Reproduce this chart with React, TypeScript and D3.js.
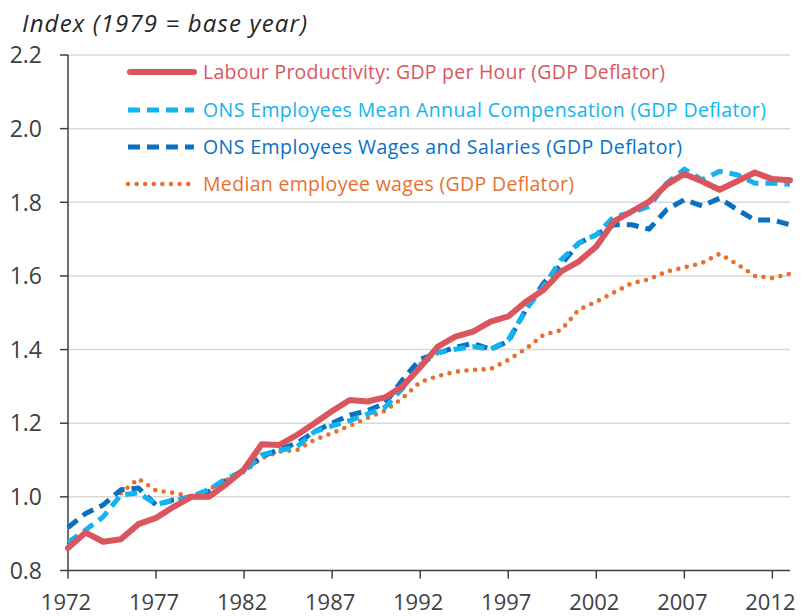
import * as d3 from "d3";

const years = d3.range(1972, 2014);
const yTicks = [0.8, 1.0, 1.2, 1.4, 1.6, 1.8, 2.0, 2.2];
const xTicks = [1972, 1977, 1982, 1987, 1992, 1997, 2002, 2007, 2012];

// labour productivity, GDP per hour
const productivity = [
  0.861, 0.903, 0.878, 0.885, 0.926, 0.943, 0.973, 1.0, 1.0, 1.035,
  1.075, 1.143, 1.141, 1.168, 1.2, 1.233, 1.263, 1.259, 1.27, 1.3,
  1.352, 1.408, 1.435, 1.449, 1.476, 1.49, 1.53, 1.562, 1.612, 1.639,
  1.68, 1.748, 1.775, 1.802, 1.848, 1.877, 1.857, 1.834, 1.857, 1.881,
  1.863, 1.86,
];
// ONS mean annual compensation
const meanComp = [
  0.876, 0.91, 0.946, 1.005, 1.011, 0.98, 0.99, 1.0, 1.02, 1.05,
  1.07, 1.114, 1.126, 1.136, 1.177, 1.193, 1.207, 1.225, 1.243, 1.295,
  1.358, 1.392, 1.401, 1.408, 1.401, 1.426, 1.508, 1.571, 1.644, 1.689,
  1.712, 1.761, 1.772, 1.789, 1.852, 1.89, 1.861, 1.884, 1.875, 1.852,
  1.852, 1.849,
];
// ONS wages and salaries
const wagesSalaries = [
  0.917, 0.955, 0.978, 1.019, 1.024, 0.978, 0.992, 1.0, 1.014, 1.046,
  1.073, 1.109, 1.129, 1.146, 1.177, 1.2, 1.222, 1.234, 1.254, 1.318,
  1.374, 1.39, 1.406, 1.417, 1.401, 1.422, 1.508, 1.58, 1.63, 1.689,
  1.712, 1.739, 1.739, 1.727, 1.78, 1.807, 1.79, 1.811, 1.78, 1.752,
  1.752, 1.739,
];
// median employee wages (starts 1975)
const medianWages = [
  null, null, null, 1.01, 1.049, 1.017, 1.011, 1.0, 1.02, 1.046,
  1.068, 1.105, 1.123, 1.127, 1.155, 1.173, 1.193, 1.214, 1.234, 1.268,
  1.312, 1.328, 1.34, 1.345, 1.347, 1.372, 1.402, 1.44, 1.453, 1.508,
  1.53, 1.555, 1.58, 1.591, 1.612, 1.623, 1.635, 1.66, 1.632, 1.6,
  1.594, 1.606,
];

const seriesNames = [
  "Labour Productivity: GDP per Hour (GDP Deflator)",
  "ONS Employees Mean Annual Compensation (GDP Deflator)",
  "ONS Employees Wages and Salaries (GDP Deflator)",
  "Median employee wages (GDP Deflator)",
];

const W = 801;
const H = 616;
const font = "'Open Sans', 'Noto Sans', sans-serif";

export default function App() {
  const x = d3.scaleLinear().domain([1972, 2013]).range([68, 790]);
  const y = d3.scaleLinear().domain([0.8, 2.2]).range([570.5, 55]);

  const line = d3
    .line<number | null>()
    .defined((d) => d != null)
    .x((_, i) => x(years[i]))
    .y((d) => y(d as number));

  // legend text widths as measured on the original (font there is wider)
  const series = [
    { name: seriesNames[0], values: productivity, color: "#D9565F", width: 6, dash: undefined, cap: "round", tw: 462 },
    { name: seriesNames[1], values: meanComp, color: "#12B4EE", width: 5, dash: "12 7", cap: "butt", tw: 563 },
    { name: seriesNames[2], values: wagesSalaries, color: "#0A70C2", width: 5, dash: "12 7", cap: "butt", tw: 479 },
    { name: seriesNames[3], values: medianWages, color: "#E8702F", width: 4.6, dash: "0 8.6", cap: "round", tw: 371 },
  ];

  const legendY = [72, 110, 147, 184];

  return (
    <svg width={W} height={H} style={{ position: "absolute", left: 0, top: 0, background: "#fff" }}>
      <text x={22} y={32} fontFamily={font} fontStyle="italic" fontSize={24} fill="#262626" textLength={285} lengthAdjust="spacing">
        Index (1979 = base year)
      </text>

      {/* gridlines */}
      {yTicks.slice(1).map((t) => (
        <line key={t} x1={68} x2={790} y1={y(t)} y2={y(t)} stroke="#d9d9d9" strokeWidth={1.5} />
      ))}

      {/* y axis */}
      <line x1={68} x2={68} y1={y(2.2)} y2={y(0.8)} stroke="#404040" strokeWidth={1.5} />
      {yTicks.map((t) => (
        <g key={t}>
          <line x1={60} x2={68} y1={y(t)} y2={y(t)} stroke="#404040" strokeWidth={1.5} />
          <text x={42} y={y(t)} dy="0.36em" textAnchor="end" fontFamily={font} fontSize={23} fill="#404040">
            {t.toFixed(1)}
          </text>
        </g>
      ))}

      {/* x axis */}
      <line x1={68} x2={790} y1={y(0.8)} y2={y(0.8)} stroke="#404040" strokeWidth={1.5} />
      {xTicks.map((t) => (
        <g key={t}>
          <line x1={x(t)} x2={x(t)} y1={y(0.8)} y2={y(0.8) + 8} stroke="#404040" strokeWidth={1.5} />
          <text x={x(t) - 2} y={610} textAnchor="middle" fontFamily={font} fontSize={22} fill="#404040">
            {t}
          </text>
        </g>
      ))}

      {/* lines, drawn bottom-up */}
      {[3, 2, 1, 0].map((k) => {
        const s = series[k];
        return (
          <path
            key={s.name}
            d={line(s.values) || ""}
            fill="none"
            stroke={s.color}
            strokeWidth={s.width}
            strokeDasharray={s.dash}
            strokeLinecap={s.cap as any}
            strokeLinejoin="round"
          />
        );
      })}

      {/* legend */}
      {series.map((s, i) => (
        <g key={s.name}>
          <line
            x1={s.dash ? 128 : 130}
            x2={194}
            y1={legendY[i]}
            y2={legendY[i]}
            stroke={s.color}
            strokeWidth={s.width}
            strokeDasharray={s.dash}
            strokeLinecap={s.cap as any}
          />
          <text
            x={203}
            y={legendY[i]}
            dy="0.36em"
            fontFamily={font}
            fontSize={19.5}
            fill={s.color}
            textLength={s.tw}
            lengthAdjust="spacing"
          >
            {s.name}
          </text>
        </g>
      ))}
    </svg>
  );
}
